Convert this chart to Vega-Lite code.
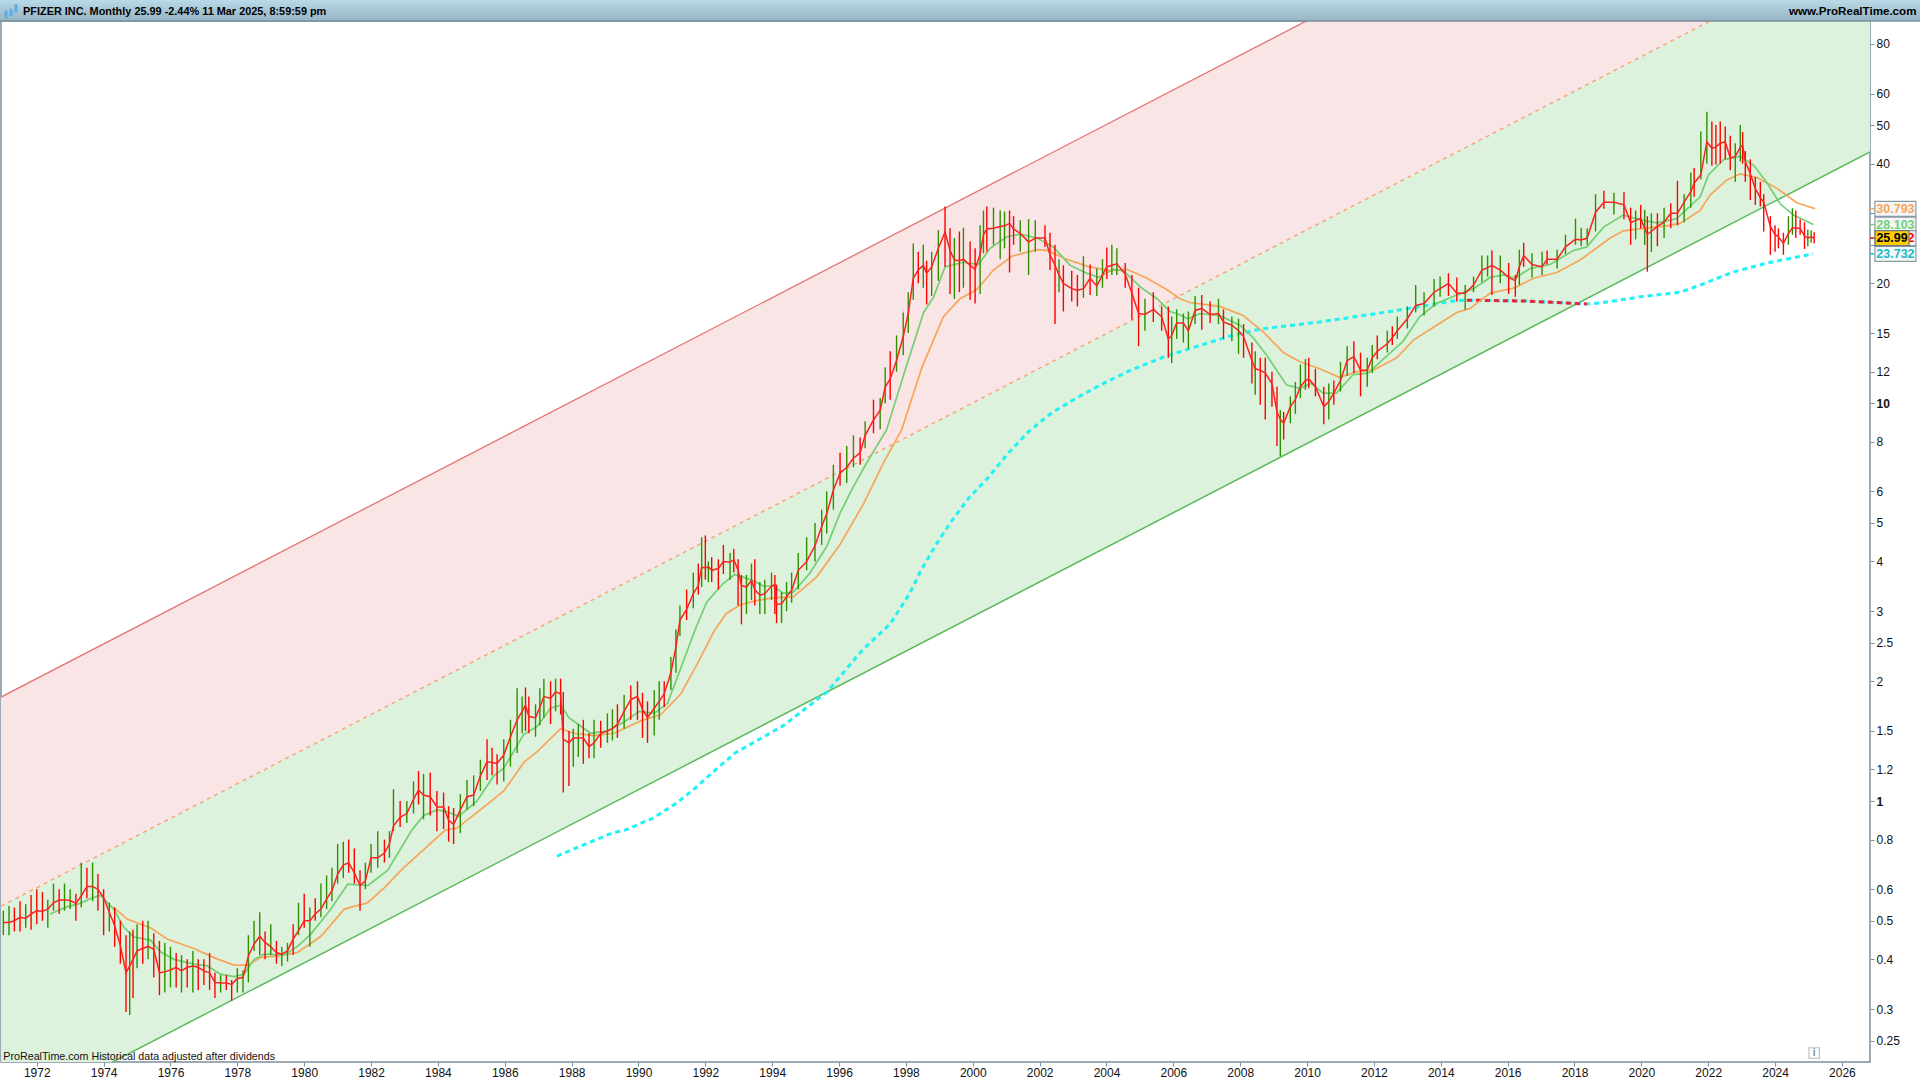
{"$schema":"https://vega.github.io/schema/vega-lite/v6.json","width":1869,"height":1041,"autosize":{"type":"none"},"padding":{"left":1,"top":21,"right":50,"bottom":18},"background":"white","config":{"view":{"stroke":"#7b8f9c","strokeWidth":1.5},"font":"Liberation Sans"},
"data":{"name":"one"},
"datasets":{"one":[{"n":1}],
"channel":[{"t":1970.93,"lo":0.158,"mid":0.544,"hi":1.825},{"t":2026.84,"lo":42.8,"mid":147.5,"hi":494.6}],
"icon":[{"t":1971.08,"a":92.7,"b":97},{"t":1971.23,"a":94,"b":98},{"t":1971.38,"a":96,"b":100.7}],
"tags":[{"v":30.793,"s":"o","txt":"30.793"},{"v":28.103,"s":"g","txt":"28.103"},{"v":25.99,"s":"r","txt":"25.992"},{"v":23.732,"s":"c","txt":"23.732"}],
"last":[{"v":25.99,"txt":"25.99"}],
"ma":[
{"t":1972.4,"v":0.52,"s":"g"},{"t":1972.9,"v":0.542,"s":"g"},{"t":1973.3,"v":0.553,"s":"g"},{"t":1973.6,"v":0.568,"s":"g"},{"t":1973.9,"v":0.58,"s":"g"},{"t":1974.3,"v":0.535,"s":"g"},{"t":1974.6,"v":0.482,"s":"g"},{"t":1974.9,"v":0.455,"s":"g"},{"t":1975.4,"v":0.447,"s":"g"},{"t":1975.7,"v":0.418,"s":"g"},{"t":1976.1,"v":0.4,"s":"g"},{"t":1976.7,"v":0.389,"s":"g"},{"t":1977.1,"v":0.385,"s":"g"},{"t":1977.5,"v":0.367,"s":"g"},{"t":1977.9,"v":0.362,"s":"g"},{"t":1978.2,"v":0.367,"s":"g"},{"t":1978.5,"v":0.4,"s":"g"},{"t":1978.8,"v":0.412,"s":"g"},{"t":1979.4,"v":0.41,"s":"g"},{"t":1979.8,"v":0.431,"s":"g"},{"t":1980.2,"v":0.463,"s":"g"},{"t":1980.8,"v":0.535,"s":"g"},{"t":1981.3,"v":0.618,"s":"g"},{"t":1981.9,"v":0.613,"s":"g"},{"t":1982.5,"v":0.67,"s":"g"},{"t":1983.22,"v":0.845,"s":"g"},{"t":1983.57,"v":0.92,"s":"g"},{"t":1983.97,"v":0.95,"s":"g"},{"t":1984.27,"v":0.94,"s":"g"},{"t":1984.62,"v":0.915,"s":"g"},{"t":1985.17,"v":1.0,"s":"g"},{"t":1985.67,"v":1.156,"s":"g"},{"t":1985.97,"v":1.21,"s":"g"},{"t":1986.57,"v":1.47,"s":"g"},{"t":1986.97,"v":1.54,"s":"g"},{"t":1987.37,"v":1.71,"s":"g"},{"t":1987.67,"v":1.74,"s":"g"},{"t":1987.92,"v":1.62,"s":"g"},{"t":1988.57,"v":1.48,"s":"g"},{"t":1989.07,"v":1.5,"s":"g"},{"t":1989.57,"v":1.58,"s":"g"},{"t":1990.02,"v":1.68,"s":"g"},{"t":1990.47,"v":1.66,"s":"g"},{"t":1990.87,"v":1.76,"s":"g"},{"t":1991.32,"v":2.22,"s":"g"},{"t":1991.69,"v":2.69,"s":"g"},{"t":1992.04,"v":3.16,"s":"g"},{"t":1992.53,"v":3.52,"s":"g"},{"t":1992.88,"v":3.71,"s":"g"},{"t":1993.43,"v":3.58,"s":"g"},{"t":1993.73,"v":3.47,"s":"g"},{"t":1994.03,"v":3.47,"s":"g"},{"t":1994.33,"v":3.33,"s":"g"},{"t":1994.63,"v":3.35,"s":"g"},{"t":1995.13,"v":3.74,"s":"g"},{"t":1995.63,"v":4.36,"s":"g"},{"t":1996.02,"v":5.27,"s":"g"},{"t":1996.42,"v":6.15,"s":"g"},{"t":1996.82,"v":7.06,"s":"g"},{"t":1997.42,"v":8.56,"s":"g"},{"t":1998.03,"v":12.5,"s":"g"},{"t":1998.53,"v":16.9,"s":"g"},{"t":1998.83,"v":18.5,"s":"g"},{"t":1999.17,"v":22,"s":"g"},{"t":1999.72,"v":22.6,"s":"g"},{"t":2000.17,"v":22.3,"s":"g"},{"t":2000.52,"v":24.5,"s":"g"},{"t":2001.02,"v":26.2,"s":"g"},{"t":2001.42,"v":26.6,"s":"g"},{"t":2001.92,"v":26,"s":"g"},{"t":2002.41,"v":24.7,"s":"g"},{"t":2002.91,"v":22.2,"s":"g"},{"t":2003.41,"v":21.2,"s":"g"},{"t":2003.76,"v":20.7,"s":"g"},{"t":2004.21,"v":21.7,"s":"g"},{"t":2004.51,"v":21.5,"s":"g"},{"t":2005.01,"v":19.6,"s":"g"},{"t":2005.51,"v":18.3,"s":"g"},{"t":2005.9,"v":17,"s":"g"},{"t":2006.1,"v":16.8,"s":"g"},{"t":2006.44,"v":16.3,"s":"g"},{"t":2006.79,"v":16.8,"s":"g"},{"t":2007.39,"v":16.6,"s":"g"},{"t":2007.99,"v":15.7,"s":"g"},{"t":2008.39,"v":14.6,"s":"g"},{"t":2008.79,"v":13.2,"s":"g"},{"t":2009.09,"v":12.1,"s":"g"},{"t":2009.39,"v":11.1,"s":"g"},{"t":2009.79,"v":10.9,"s":"g"},{"t":2010.13,"v":11.2,"s":"g"},{"t":2010.48,"v":10.6,"s":"g"},{"t":2010.88,"v":10.6,"s":"g"},{"t":2011.38,"v":11.8,"s":"g"},{"t":2011.83,"v":11.9,"s":"g"},{"t":2012.28,"v":12.9,"s":"g"},{"t":2012.87,"v":14.3,"s":"g"},{"t":2013.37,"v":16.5,"s":"g"},{"t":2013.87,"v":17.8,"s":"g"},{"t":2014.48,"v":18.7,"s":"g"},{"t":2014.98,"v":19.4,"s":"g"},{"t":2015.48,"v":20.7,"s":"g"},{"t":2015.88,"v":21,"s":"g"},{"t":2016.22,"v":20.6,"s":"g"},{"t":2016.67,"v":21.8,"s":"g"},{"t":2017.27,"v":22.3,"s":"g"},{"t":2017.97,"v":24.2,"s":"g"},{"t":2018.37,"v":24.7,"s":"g"},{"t":2018.87,"v":27.7,"s":"g"},{"t":2019.46,"v":29.7,"s":"g"},{"t":2019.96,"v":28.9,"s":"g"},{"t":2020.46,"v":28.4,"s":"g"},{"t":2021.06,"v":29.1,"s":"g"},{"t":2021.76,"v":33,"s":"g"},{"t":2022.01,"v":37.5,"s":"g"},{"t":2022.46,"v":40.9,"s":"g"},{"t":2022.96,"v":41.7,"s":"g"},{"t":2023.36,"v":39.6,"s":"g"},{"t":2023.75,"v":35.9,"s":"g"},{"t":2024.15,"v":31.7,"s":"g"},{"t":2024.55,"v":29.7,"s":"g"},{"t":2025.15,"v":28.103,"s":"g"},
{"t":1974.3,"v":0.54,"s":"o"},{"t":1974.7,"v":0.505,"s":"o"},{"t":1975.4,"v":0.48,"s":"o"},{"t":1975.9,"v":0.45,"s":"o"},{"t":1976.7,"v":0.426,"s":"o"},{"t":1977.3,"v":0.404,"s":"o"},{"t":1977.9,"v":0.387,"s":"o"},{"t":1978.3,"v":0.387,"s":"o"},{"t":1978.7,"v":0.404,"s":"o"},{"t":1979.2,"v":0.408,"s":"o"},{"t":1979.8,"v":0.416,"s":"o"},{"t":1980.5,"v":0.457,"s":"o"},{"t":1981.2,"v":0.535,"s":"o"},{"t":1981.9,"v":0.555,"s":"o"},{"t":1982.4,"v":0.606,"s":"o"},{"t":1982.9,"v":0.67,"s":"o"},{"t":1984.22,"v":0.845,"s":"o"},{"t":1984.57,"v":0.855,"s":"o"},{"t":1985.27,"v":0.95,"s":"o"},{"t":1985.97,"v":1.06,"s":"o"},{"t":1986.57,"v":1.25,"s":"o"},{"t":1986.97,"v":1.33,"s":"o"},{"t":1987.67,"v":1.52,"s":"o"},{"t":1988.07,"v":1.48,"s":"o"},{"t":1988.67,"v":1.46,"s":"o"},{"t":1989.27,"v":1.48,"s":"o"},{"t":1990.07,"v":1.59,"s":"o"},{"t":1990.67,"v":1.65,"s":"o"},{"t":1991.27,"v":1.86,"s":"o"},{"t":1991.77,"v":2.22,"s":"o"},{"t":1992.28,"v":2.69,"s":"o"},{"t":1992.63,"v":2.96,"s":"o"},{"t":1993.03,"v":3.11,"s":"o"},{"t":1993.53,"v":3.19,"s":"o"},{"t":1994.03,"v":3.24,"s":"o"},{"t":1994.63,"v":3.26,"s":"o"},{"t":1995.33,"v":3.66,"s":"o"},{"t":1996.02,"v":4.4,"s":"o"},{"t":1996.72,"v":5.56,"s":"o"},{"t":1997.32,"v":7.06,"s":"o"},{"t":1997.87,"v":8.56,"s":"o"},{"t":1998.48,"v":12.3,"s":"o"},{"t":1999.12,"v":16.5,"s":"o"},{"t":1999.62,"v":18.3,"s":"o"},{"t":2000.12,"v":19.3,"s":"o"},{"t":2000.62,"v":21.6,"s":"o"},{"t":2001.17,"v":23.4,"s":"o"},{"t":2001.92,"v":24.3,"s":"o"},{"t":2002.21,"v":24.2,"s":"o"},{"t":2002.81,"v":23,"s":"o"},{"t":2003.41,"v":22.1,"s":"o"},{"t":2004.11,"v":21.5,"s":"o"},{"t":2004.61,"v":21.7,"s":"o"},{"t":2005.21,"v":20.6,"s":"o"},{"t":2005.8,"v":19.3,"s":"o"},{"t":2006.2,"v":18.3,"s":"o"},{"t":2006.49,"v":17.9,"s":"o"},{"t":2007.39,"v":17.5,"s":"o"},{"t":2008.09,"v":16.6,"s":"o"},{"t":2008.69,"v":15.1,"s":"o"},{"t":2009.29,"v":13.4,"s":"o"},{"t":2009.79,"v":12.7,"s":"o"},{"t":2010.38,"v":12.2,"s":"o"},{"t":2010.98,"v":11.6,"s":"o"},{"t":2011.48,"v":12,"s":"o"},{"t":2011.98,"v":12.1,"s":"o"},{"t":2012.68,"v":13,"s":"o"},{"t":2013.18,"v":14.4,"s":"o"},{"t":2013.98,"v":15.9,"s":"o"},{"t":2014.48,"v":16.9,"s":"o"},{"t":2014.88,"v":17.3,"s":"o"},{"t":2015.48,"v":18.9,"s":"o"},{"t":2016.22,"v":19.5,"s":"o"},{"t":2016.77,"v":20.6,"s":"o"},{"t":2017.47,"v":21.3,"s":"o"},{"t":2018.17,"v":22.9,"s":"o"},{"t":2019.07,"v":26,"s":"o"},{"t":2019.46,"v":27.1,"s":"o"},{"t":2020.06,"v":27.5,"s":"o"},{"t":2020.76,"v":27.9,"s":"o"},{"t":2021.16,"v":28.3,"s":"o"},{"t":2021.76,"v":30.5,"s":"o"},{"t":2022.06,"v":33.4,"s":"o"},{"t":2022.56,"v":36.4,"s":"o"},{"t":2022.96,"v":37.7,"s":"o"},{"t":2023.46,"v":36.9,"s":"o"},{"t":2024.05,"v":34.7,"s":"o"},{"t":2024.65,"v":31.9,"s":"o"},{"t":2025.2,"v":30.793,"s":"o"},
{"t":1987.56,"v":0.727,"s":"c"},{"t":1989.21,"v":0.831,"s":"c"},{"t":1989.6,"v":0.845,"s":"c"},{"t":1990.44,"v":0.906,"s":"c"},{"t":1991.15,"v":0.99,"s":"c"},{"t":1991.63,"v":1.066,"s":"c"},{"t":1992.23,"v":1.183,"s":"c"},{"t":1992.89,"v":1.32,"s":"c"},{"t":1994.35,"v":1.55,"s":"c"},{"t":1995.64,"v":1.88,"s":"c"},{"t":1996.72,"v":2.41,"s":"c"},{"t":1997.52,"v":2.78,"s":"c"},{"t":1998.12,"v":3.33,"s":"c"},{"t":1998.42,"v":3.76,"s":"c"},{"t":1998.87,"v":4.37,"s":"c"},{"t":1999.32,"v":4.99,"s":"c"},{"t":1999.86,"v":5.75,"s":"c"},{"t":2000.46,"v":6.5,"s":"c"},{"t":2001.01,"v":7.4,"s":"c"},{"t":2001.66,"v":8.47,"s":"c"},{"t":2002.36,"v":9.45,"s":"c"},{"t":2003.1,"v":10.3,"s":"c"},{"t":2003.9,"v":11.2,"s":"c"},{"t":2004.7,"v":12.07,"s":"c"},{"t":2005.69,"v":13.05,"s":"c"},{"t":2007.7,"v":14.75,"s":"c"},{"t":2008.59,"v":15.35,"s":"c"},{"t":2010.39,"v":16,"s":"c"},{"t":2012.39,"v":16.95,"s":"c"},{"t":2014.37,"v":18.05,"s":"c"},{"t":2014.78,"v":18.15,"s":"c"},{"t":2016.58,"v":18.05,"s":"c"},{"t":2018.37,"v":17.75,"s":"c"},{"t":2018.76,"v":17.85,"s":"c"},{"t":2019.96,"v":18.5,"s":"c"},{"t":2021.16,"v":19,"s":"c"},{"t":2021.76,"v":19.8,"s":"c"},{"t":2022.74,"v":21.35,"s":"c"},{"t":2023.76,"v":22.5,"s":"c"},{"t":2025.14,"v":23.732,"s":"c"},
{"t":2014.78,"v":18.15,"s":"d"},{"t":2016.58,"v":18.05,"s":"d"},{"t":2018.37,"v":17.75,"s":"d"}],
"bars":[
{"t":1971,"h":0.53,"l":0.46,"c":0.495,"d":"u"},{"t":1971.17,"h":0.545,"l":0.46,"c":0.495,"d":"u"},{"t":1971.33,"h":0.54,"l":0.47,"c":0.5,"d":"r"},{"t":1971.5,"h":0.56,"l":0.47,"c":0.51,"d":"r"},{"t":1971.67,"h":0.55,"l":0.48,"c":0.507,"d":"u"},{"t":1971.83,"h":0.58,"l":0.475,"c":0.52,"d":"r"},{"t":1972,"h":0.6,"l":0.49,"c":0.53,"d":"r"},{"t":1972.17,"h":0.59,"l":0.5,"c":0.528,"d":"r"},{"t":1972.33,"h":0.565,"l":0.48,"c":0.535,"d":"u"},{"t":1972.5,"h":0.62,"l":0.53,"c":0.555,"d":"u"},{"t":1972.67,"h":0.6,"l":0.52,"c":0.564,"d":"r"},{"t":1972.83,"h":0.62,"l":0.53,"c":0.564,"d":"u"},{"t":1973,"h":0.6,"l":0.535,"c":0.562,"d":"u"},{"t":1973.17,"h":0.585,"l":0.5,"c":0.553,"d":"r"},{"t":1973.33,"h":0.7,"l":0.54,"c":0.577,"d":"u"},{"t":1973.5,"h":0.68,"l":0.57,"c":0.61,"d":"r"},{"t":1973.67,"h":0.7,"l":0.56,"c":0.61,"d":"u"},{"t":1973.83,"h":0.655,"l":0.53,"c":0.6,"d":"r"},{"t":1974,"h":0.6,"l":0.46,"c":0.572,"d":"r"},{"t":1974.17,"h":0.555,"l":0.47,"c":0.525,"d":"u"},{"t":1974.33,"h":0.54,"l":0.43,"c":0.486,"d":"r"},{"t":1974.5,"h":0.5,"l":0.39,"c":0.433,"d":"r"},{"t":1974.67,"h":0.46,"l":0.295,"c":0.37,"d":"r"},{"t":1974.78,"h":0.47,"l":0.29,"c":0.385,"d":"u"},{"t":1974.88,"h":0.475,"l":0.32,"c":0.4,"d":"r"},{"t":1975,"h":0.49,"l":0.38,"c":0.42,"d":"u"},{"t":1975.17,"h":0.5,"l":0.39,"c":0.426,"d":"r"},{"t":1975.33,"h":0.5,"l":0.4,"c":0.431,"d":"u"},{"t":1975.5,"h":0.465,"l":0.36,"c":0.424,"d":"r"},{"t":1975.67,"h":0.445,"l":0.325,"c":0.37,"d":"r"},{"t":1975.83,"h":0.44,"l":0.33,"c":0.372,"d":"u"},{"t":1976,"h":0.43,"l":0.34,"c":0.376,"d":"u"},{"t":1976.17,"h":0.415,"l":0.34,"c":0.382,"d":"r"},{"t":1976.33,"h":0.41,"l":0.33,"c":0.374,"d":"u"},{"t":1976.5,"h":0.4,"l":0.34,"c":0.382,"d":"r"},{"t":1976.67,"h":0.42,"l":0.33,"c":0.385,"d":"u"},{"t":1976.83,"h":0.4,"l":0.335,"c":0.382,"d":"r"},{"t":1977,"h":0.4,"l":0.345,"c":0.374,"d":"r"},{"t":1977.17,"h":0.415,"l":0.335,"c":0.37,"d":"r"},{"t":1977.33,"h":0.37,"l":0.32,"c":0.35,"d":"r"},{"t":1977.5,"h":0.365,"l":0.33,"c":0.349,"d":"u"},{"t":1977.67,"h":0.365,"l":0.335,"c":0.349,"d":"r"},{"t":1977.83,"h":0.355,"l":0.315,"c":0.346,"d":"r"},{"t":1978,"h":0.38,"l":0.33,"c":0.358,"d":"u"},{"t":1978.17,"h":0.375,"l":0.33,"c":0.36,"d":"u"},{"t":1978.33,"h":0.46,"l":0.35,"c":0.408,"d":"u"},{"t":1978.5,"h":0.5,"l":0.42,"c":0.437,"d":"u"},{"t":1978.67,"h":0.525,"l":0.41,"c":0.457,"d":"u"},{"t":1978.83,"h":0.47,"l":0.4,"c":0.441,"d":"r"},{"t":1979,"h":0.49,"l":0.41,"c":0.43,"d":"u"},{"t":1979.17,"h":0.445,"l":0.39,"c":0.416,"d":"r"},{"t":1979.33,"h":0.43,"l":0.385,"c":0.412,"d":"u"},{"t":1979.5,"h":0.44,"l":0.395,"c":0.42,"d":"u"},{"t":1979.67,"h":0.49,"l":0.41,"c":0.45,"d":"r"},{"t":1979.83,"h":0.555,"l":0.46,"c":0.472,"d":"u"},{"t":1980,"h":0.585,"l":0.48,"c":0.5,"d":"r"},{"t":1980.17,"h":0.54,"l":0.43,"c":0.5,"d":"u"},{"t":1980.33,"h":0.57,"l":0.5,"c":0.52,"d":"r"},{"t":1980.5,"h":0.62,"l":0.51,"c":0.535,"d":"u"},{"t":1980.67,"h":0.65,"l":0.535,"c":0.567,"d":"u"},{"t":1980.83,"h":0.68,"l":0.56,"c":0.595,"d":"u"},{"t":1981,"h":0.78,"l":0.62,"c":0.655,"d":"u"},{"t":1981.17,"h":0.79,"l":0.64,"c":0.69,"d":"u"},{"t":1981.33,"h":0.8,"l":0.66,"c":0.7,"d":"r"},{"t":1981.5,"h":0.76,"l":0.62,"c":0.66,"d":"r"},{"t":1981.67,"h":0.67,"l":0.53,"c":0.613,"d":"r"},{"t":1981.83,"h":0.7,"l":0.6,"c":0.63,"d":"u"},{"t":1982,"h":0.78,"l":0.66,"c":0.72,"d":"u"},{"t":1982.2,"h":0.84,"l":0.68,"c":0.72,"d":"u"},{"t":1982.4,"h":0.8,"l":0.7,"c":0.74,"d":"r"},{"t":1982.55,"h":0.84,"l":0.72,"c":0.78,"d":"u"},
{"t":1982.67,"h":1.07,"l":0.84,"c":0.865,"d":"u"},{"t":1982.87,"h":1,"l":0.86,"c":0.91,"d":"r"},{"t":1983.07,"h":1,"l":0.88,"c":0.93,"d":"u"},{"t":1983.27,"h":1.12,"l":0.93,"c":1.01,"d":"u"},{"t":1983.42,"h":1.19,"l":0.98,"c":1.066,"d":"r"},{"t":1983.57,"h":1.17,"l":0.9,"c":1.035,"d":"u"},{"t":1983.77,"h":1.18,"l":0.92,"c":1.025,"d":"r"},{"t":1983.97,"h":1.06,"l":0.84,"c":0.966,"d":"r"},{"t":1984.17,"h":1.05,"l":0.85,"c":0.966,"d":"r"},{"t":1984.32,"h":0.97,"l":0.79,"c":0.895,"d":"r"},{"t":1984.47,"h":0.96,"l":0.78,"c":0.873,"d":"r"},{"t":1984.67,"h":1.04,"l":0.83,"c":0.95,"d":"u"},{"t":1984.87,"h":1.13,"l":0.95,"c":1.025,"d":"u"},{"t":1985.07,"h":1.16,"l":0.97,"c":1.035,"d":"u"},{"t":1985.27,"h":1.27,"l":1.06,"c":1.156,"d":"u"},{"t":1985.47,"h":1.43,"l":1.13,"c":1.255,"d":"r"},{"t":1985.62,"h":1.36,"l":1.16,"c":1.25,"d":"r"},{"t":1985.77,"h":1.31,"l":1.1,"c":1.243,"d":"r"},{"t":1985.97,"h":1.43,"l":1.12,"c":1.305,"d":"u"},{"t":1986.17,"h":1.6,"l":1.22,"c":1.45,"d":"u"},{"t":1986.37,"h":1.92,"l":1.32,"c":1.6,"d":"u"},{"t":1986.52,"h":1.83,"l":1.48,"c":1.68,"d":"u"},{"t":1986.62,"h":1.93,"l":1.5,"c":1.74,"d":"r"},{"t":1986.72,"h":1.83,"l":1.48,"c":1.63,"d":"r"},{"t":1986.92,"h":1.75,"l":1.45,"c":1.62,"d":"u"},{"t":1987.05,"h":1.92,"l":1.55,"c":1.72,"d":"u"},{"t":1987.17,"h":2.03,"l":1.62,"c":1.83,"d":"u"},{"t":1987.37,"h":2,"l":1.56,"c":1.81,"d":"r"},{"t":1987.52,"h":2.03,"l":1.68,"c":1.88,"d":"u"},{"t":1987.67,"h":2.03,"l":1.65,"c":1.86,"d":"r"},{"t":1987.75,"h":1.88,"l":1.05,"c":1.43,"d":"r"},{"t":1987.92,"h":1.5,"l":1.09,"c":1.4,"d":"r"},{"t":1988.05,"h":1.52,"l":1.22,"c":1.44,"d":"u"},{"t":1988.2,"h":1.56,"l":1.29,"c":1.44,"d":"u"},{"t":1988.35,"h":1.6,"l":1.24,"c":1.44,"d":"r"},{"t":1988.52,"h":1.48,"l":1.28,"c":1.37,"d":"r"},{"t":1988.67,"h":1.6,"l":1.28,"c":1.4,"d":"u"},{"t":1988.87,"h":1.59,"l":1.36,"c":1.48,"d":"r"},{"t":1989.07,"h":1.66,"l":1.4,"c":1.5,"d":"u"},{"t":1989.22,"h":1.7,"l":1.42,"c":1.52,"d":"u"},{"t":1989.37,"h":1.75,"l":1.44,"c":1.56,"d":"r"},{"t":1989.57,"h":1.85,"l":1.52,"c":1.68,"d":"u"},{"t":1989.77,"h":1.95,"l":1.6,"c":1.8,"d":"r"},{"t":1989.97,"h":2,"l":1.6,"c":1.83,"d":"r"},{"t":1990.12,"h":1.87,"l":1.44,"c":1.7,"d":"r"},{"t":1990.27,"h":1.78,"l":1.4,"c":1.62,"d":"r"},{"t":1990.47,"h":1.9,"l":1.46,"c":1.71,"d":"u"},{"t":1990.62,"h":2,"l":1.6,"c":1.78,"d":"u"},{"t":1990.77,"h":2,"l":1.72,"c":1.86,"d":"r"},{"t":1990.97,"h":2.3,"l":1.9,"c":2.1,"d":"u"},{"t":1991.12,"h":2.7,"l":2.1,"c":2.44,"d":"u"},{"t":1991.24,"h":3.1,"l":2.6,"c":2.85,"d":"u"},{"t":1991.44,"h":3.4,"l":2.85,"c":3.03,"d":"r"},{"t":1991.64,"h":3.75,"l":3.05,"c":3.32,"d":"u"},{"t":1991.79,"h":3.95,"l":3.3,"c":3.48,"d":"r"},{"t":1991.89,"h":4.6,"l":3.45,"c":3.87,"d":"u"},{"t":1992,"h":4.65,"l":3.6,"c":3.85,"d":"r"},{"t":1992.09,"h":4,"l":3.55,"c":3.88,"d":"u"},{"t":1992.19,"h":4.1,"l":3.55,"c":3.8,"d":"r"},{"t":1992.39,"h":4.05,"l":3.4,"c":3.84,"d":"r"},{"t":1992.54,"h":4.4,"l":3.72,"c":4,"d":"r"},{"t":1992.74,"h":4.2,"l":3.6,"c":3.98,"d":"u"},{"t":1992.85,"h":4.3,"l":3.75,"c":4.04,"d":"r"},{"t":1992.98,"h":4.05,"l":3.1,"c":3.8,"d":"r"},{"t":1993.08,"h":3.7,"l":2.78,"c":3.48,"d":"r"},{"t":1993.23,"h":3.7,"l":2.95,"c":3.45,"d":"u"},{"t":1993.38,"h":3.95,"l":3.2,"c":3.58,"d":"u"},{"t":1993.48,"h":4.05,"l":3.1,"c":3.4,"d":"r"},{"t":1993.63,"h":3.55,"l":2.95,"c":3.29,"d":"u"},{"t":1993.78,"h":3.6,"l":2.95,"c":3.32,"d":"u"},{"t":1993.98,"h":3.75,"l":3.2,"c":3.47,"d":"u"},{"t":1994.08,"h":3.7,"l":2.95,"c":3.5,"d":"r"},{"t":1994.13,"h":3.5,"l":2.8,"c":3.12,"d":"r"},{"t":1994.28,"h":3.35,"l":2.8,"c":3.13,"d":"u"},{"t":1994.43,"h":3.55,"l":3,"c":3.26,"d":"u"},{"t":1994.58,"h":3.75,"l":3.15,"c":3.38,"d":"u"},{"t":1994.78,"h":4.2,"l":3.4,"c":3.8,"d":"u"},{"t":1995.03,"h":4.6,"l":3.8,"c":4,"d":"u"},{"t":1995.28,"h":5,"l":4,"c":4.38,"d":"u"},{"t":1995.48,"h":5.4,"l":4.4,"c":4.9,"d":"u"},{"t":1995.63,"h":6,"l":4.7,"c":5.27,"d":"u"},{"t":1995.83,"h":7,"l":5.4,"c":6.05,"d":"u"},{"t":1996.03,"h":7.5,"l":6.2,"c":6.67,"d":"r"},{"t":1996.23,"h":7.8,"l":6.3,"c":6.9,"d":"u"},{"t":1996.43,"h":8.3,"l":6.9,"c":7.27,"d":"u"},{"t":1996.63,"h":8.2,"l":7,"c":7.5,"d":"r"},{"t":1996.78,"h":9,"l":7.7,"c":8.3,"d":"u"},{"t":1997.03,"h":10.2,"l":8.4,"c":9.07,"d":"r"},{"t":1997.23,"h":10.3,"l":8.6,"c":9.6,"d":"u"},{"t":1997.38,"h":12.3,"l":10,"c":10.97,"d":"u"},{"t":1997.53,"h":13.5,"l":10.2,"c":11.5,"d":"r"},{"t":1997.72,"h":14.8,"l":12,"c":12.8,"d":"u"},{"t":1997.92,"h":16.9,"l":13.2,"c":14.7,"d":"u"},{"t":1998.07,"h":19,"l":15,"c":16.8,"d":"u"},{"t":1998.22,"h":25.2,"l":18.2,"c":20.6,"d":"u"},{"t":1998.37,"h":24,"l":20,"c":21.6,"d":"r"},{"t":1998.52,"h":25,"l":19.5,"c":22.2,"d":"u"},{"t":1998.62,"h":22.8,"l":17.7,"c":21.2,"d":"r"},{"t":1998.77,"h":24,"l":18.6,"c":22,"d":"u"},{"t":1998.97,"h":27.2,"l":20.3,"c":24.5,"d":"u"},
{"t":1999.17,"h":31.2,"l":22,"c":26.9,"d":"r"},{"t":1999.32,"h":27.5,"l":18.8,"c":24.2,"d":"r"},{"t":1999.45,"h":26,"l":18.3,"c":22.9,"d":"u"},{"t":1999.6,"h":27,"l":19,"c":22.8,"d":"r"},{"t":1999.72,"h":27.6,"l":19.5,"c":23,"d":"u"},{"t":1999.92,"h":25.5,"l":18.2,"c":22.2,"d":"r"},{"t":2000.07,"h":24.5,"l":17.8,"c":21.7,"d":"r"},{"t":2000.22,"h":28,"l":18.8,"c":23.7,"d":"u"},{"t":2000.32,"h":30.5,"l":23.8,"c":26.5,"d":"u"},{"t":2000.42,"h":31.2,"l":24,"c":27.4,"d":"r"},{"t":2000.62,"h":31,"l":25,"c":27.5,"d":"u"},{"t":2000.82,"h":30.5,"l":23,"c":27.8,"d":"u"},{"t":2000.95,"h":30.3,"l":24.5,"c":27.9,"d":"u"},{"t":2001.1,"h":30.5,"l":21.3,"c":28.3,"d":"r"},{"t":2001.22,"h":29.5,"l":25,"c":27.4,"d":"r"},{"t":2001.42,"h":28.8,"l":24,"c":26.7,"d":"u"},{"t":2001.67,"h":29,"l":21,"c":25.4,"d":"u"},{"t":2001.87,"h":28.8,"l":24,"c":26,"d":"u"},{"t":2002.16,"h":28,"l":24.7,"c":26,"d":"r"},{"t":2002.31,"h":26.8,"l":21.6,"c":23.6,"d":"r"},{"t":2002.46,"h":25,"l":15.8,"c":22.2,"d":"r"},{"t":2002.58,"h":23,"l":19,"c":21,"d":"u"},{"t":2002.71,"h":22.2,"l":17,"c":20,"d":"r"},{"t":2002.96,"h":21.5,"l":18,"c":19.4,"d":"r"},{"t":2003.13,"h":21,"l":17.5,"c":19.2,"d":"r"},{"t":2003.31,"h":23.4,"l":18.4,"c":19.4,"d":"u"},{"t":2003.51,"h":22.3,"l":18.7,"c":20.6,"d":"r"},{"t":2003.71,"h":21.8,"l":18.6,"c":19.7,"d":"u"},{"t":2003.88,"h":23,"l":19.5,"c":21,"d":"u"},{"t":2004.01,"h":24.6,"l":20.5,"c":22,"d":"r"},{"t":2004.16,"h":25,"l":21,"c":22.2,"d":"u"},{"t":2004.31,"h":24.5,"l":21,"c":22.4,"d":"u"},{"t":2004.56,"h":22.5,"l":19.5,"c":21.1,"d":"r"},{"t":2004.76,"h":21,"l":16.2,"c":18.9,"d":"r"},{"t":2004.96,"h":19.5,"l":13.9,"c":16.8,"d":"r"},{"t":2005.15,"h":18.3,"l":15.2,"c":16.7,"d":"u"},{"t":2005.4,"h":19,"l":16,"c":17.2,"d":"r"},{"t":2005.65,"h":17.5,"l":15.2,"c":16.5,"d":"r"},{"t":2005.85,"h":17.5,"l":13,"c":14.5,"d":"r"},{"t":2005.95,"h":16.5,"l":12.6,"c":14.8,"d":"u"},{"t":2006.1,"h":17.2,"l":14.5,"c":15.9,"d":"u"},{"t":2006.3,"h":16.8,"l":14.2,"c":15.9,"d":"u"},{"t":2006.45,"h":17,"l":13.7,"c":15.2,"d":"u"},{"t":2006.65,"h":18.6,"l":15.8,"c":17.1,"d":"u"},{"t":2006.85,"h":18.7,"l":15.3,"c":17.3,"d":"r"},{"t":2007.1,"h":18,"l":15.9,"c":16.7,"d":"r"},{"t":2007.35,"h":18.3,"l":15.8,"c":16.8,"d":"u"},{"t":2007.5,"h":17.2,"l":14.5,"c":16,"d":"r"},{"t":2007.75,"h":16.5,"l":14.3,"c":15.7,"d":"u"},{"t":2007.95,"h":16.3,"l":13.3,"c":15.2,"d":"u"},{"t":2008.1,"h":15.8,"l":13,"c":14.7,"d":"r"},{"t":2008.35,"h":14.2,"l":11.2,"c":12.8,"d":"r"},{"t":2008.45,"h":13.5,"l":10.5,"c":12.2,"d":"u"},{"t":2008.6,"h":13,"l":9.9,"c":12.1,"d":"r"},{"t":2008.75,"h":13,"l":9.1,"c":11.9,"d":"r"},{"t":2008.95,"h":12,"l":9.8,"c":11.2,"d":"r"},{"t":2009.1,"h":11,"l":7.8,"c":9.5,"d":"r"},{"t":2009.2,"h":9.6,"l":7.35,"c":9.1,"d":"u"},{"t":2009.3,"h":9.5,"l":8.1,"c":8.9,"d":"r"},{"t":2009.5,"h":10.4,"l":8.9,"c":9.8,"d":"u"},{"t":2009.65,"h":11.3,"l":9.4,"c":10.2,"d":"u"},{"t":2009.8,"h":12.5,"l":10.3,"c":11,"d":"u"},{"t":2009.95,"h":12.9,"l":10.8,"c":11.4,"d":"u"},{"t":2010.05,"h":13,"l":10.9,"c":11.5,"d":"r"},{"t":2010.25,"h":12.2,"l":10.4,"c":11,"d":"r"},{"t":2010.5,"h":11,"l":8.85,"c":9.8,"d":"r"},{"t":2010.65,"h":11.2,"l":9.1,"c":10.1,"d":"u"},{"t":2010.8,"h":11.4,"l":9.9,"c":10.6,"d":"r"},{"t":2011,"h":12.7,"l":10.7,"c":11.4,"d":"u"},{"t":2011.2,"h":13.9,"l":11.7,"c":12.8,"d":"u"},{"t":2011.4,"h":14.3,"l":11.9,"c":13.1,"d":"r"},{"t":2011.6,"h":13.4,"l":10.4,"c":12.1,"d":"r"},{"t":2011.8,"h":13,"l":11,"c":12.1,"d":"u"},{"t":2011.95,"h":14,"l":11.9,"c":13,"d":"u"},{"t":2012.1,"h":14.8,"l":12.9,"c":13.5,"d":"r"},{"t":2012.4,"h":15.2,"l":13.4,"c":14.1,"d":"u"},{"t":2012.55,"h":15.6,"l":14,"c":14.6,"d":"r"},{"t":2012.7,"h":16.5,"l":14.5,"c":15.2,"d":"u"},{"t":2013,"h":17.5,"l":15.4,"c":16.3,"d":"u"},{"t":2013.25,"h":19.8,"l":16.9,"c":17.6,"d":"u"},{"t":2013.5,"h":19,"l":16.6,"c":17.8,"d":"u"},{"t":2013.8,"h":20.5,"l":17.5,"c":19,"d":"u"},{"t":2013.98,"h":20.8,"l":18.5,"c":19.4,"d":"u"},{"t":2014.23,"h":21.2,"l":18.6,"c":20,"d":"r"},{"t":2014.48,"h":20.7,"l":18,"c":18.9,"d":"r"},{"t":2014.73,"h":19.8,"l":17.2,"c":18.9,"d":"u"},{"t":2014.98,"h":20.8,"l":19,"c":19.8,"d":"u"},{"t":2015.23,"h":23.5,"l":20.2,"c":21.6,"d":"u"},{"t":2015.4,"h":23.5,"l":20.8,"c":21.9,"d":"u"},{"t":2015.53,"h":24.2,"l":18.7,"c":22.2,"d":"r"},{"t":2015.78,"h":23.5,"l":20,"c":21.6,"d":"u"},{"t":2016.03,"h":22.5,"l":18.8,"c":20.7,"d":"r"},{"t":2016.23,"h":21,"l":18.5,"c":20.3,"d":"r"},{"t":2016.35,"h":24.3,"l":19.8,"c":22,"d":"u"},{"t":2016.48,"h":25.3,"l":22,"c":23.5,"d":"r"},{"t":2016.73,"h":23.8,"l":20.7,"c":22.3,"d":"u"},{"t":2017.03,"h":24,"l":21,"c":22,"d":"u"},{"t":2017.18,"h":24.2,"l":22.3,"c":23,"d":"r"},{"t":2017.48,"h":24.3,"l":21.8,"c":23,"d":"u"},{"t":2017.73,"h":26.5,"l":23.7,"c":24.7,"d":"u"},{"t":2018.03,"h":29.1,"l":25,"c":25.8,"d":"u"},{"t":2018.2,"h":27.6,"l":24.8,"c":25.7,"d":"u"},{"t":2018.38,"h":27.5,"l":25,"c":26,"d":"u"},{"t":2018.63,"h":33.5,"l":27,"c":30.2,"d":"u"},{"t":2018.88,"h":34.2,"l":30.8,"c":32,"d":"r"},{"t":2019.18,"h":33.8,"l":29.8,"c":32,"d":"u"},{"t":2019.48,"h":33.9,"l":29,"c":31.5,"d":"r"},{"t":2019.68,"h":31,"l":25,"c":28.4,"d":"r"},{"t":2019.83,"h":30.5,"l":25.8,"c":28.8,"d":"u"},{"t":2019.98,"h":31.5,"l":27.5,"c":29.1,"d":"r"},{"t":2020.1,"h":30.6,"l":25,"c":27.5,"d":"u"},{"t":2020.18,"h":29.5,"l":21.4,"c":26.6,"d":"r"},{"t":2020.3,"h":30,"l":24,"c":27,"d":"u"},{"t":2020.48,"h":30,"l":24.8,"c":27.8,"d":"r"},{"t":2020.68,"h":31,"l":26,"c":28.5,"d":"u"},{"t":2020.88,"h":31.8,"l":27.5,"c":30,"d":"r"},{"t":2021.08,"h":36.2,"l":28,"c":30,"d":"r"},{"t":2021.28,"h":33.5,"l":28.5,"c":32,"d":"u"},{"t":2021.48,"h":38,"l":31,"c":34,"d":"u"},{"t":2021.58,"h":39,"l":33,"c":35.7,"d":"r"},{"t":2021.78,"h":48.2,"l":36.5,"c":37.5,"d":"u"},{"t":2021.96,"h":54,"l":40,"c":45.4,"d":"u"},{"t":2022.11,"h":51,"l":39.5,"c":43.7,"d":"r"},{"t":2022.23,"h":50,"l":39.8,"c":44,"d":"r"},{"t":2022.36,"h":51,"l":40,"c":45,"d":"r"},{"t":2022.51,"h":49.6,"l":41,"c":45.4,"d":"r"},{"t":2022.66,"h":47,"l":38.5,"c":41.3,"d":"r"},{"t":2022.81,"h":45,"l":36,"c":41.7,"d":"u"},{"t":2022.96,"h":50,"l":40.5,"c":44,"d":"u"},{"t":2023.03,"h":48,"l":40,"c":44.5,"d":"r"},{"t":2023.11,"h":43,"l":36,"c":40.5,"d":"r"},{"t":2023.26,"h":41,"l":32.4,"c":37.7,"d":"r"},{"t":2023.41,"h":37,"l":31.5,"c":34.6,"d":"r"},{"t":2023.56,"h":36,"l":31.2,"c":32.8,"d":"r"},{"t":2023.66,"h":33.5,"l":27,"c":32,"d":"r"},{"t":2023.86,"h":29.5,"l":23.6,"c":27.8,"d":"r"},{"t":2024,"h":28,"l":24,"c":26.5,"d":"r"},{"t":2024.1,"h":27.5,"l":24.5,"c":26.2,"d":"r"},{"t":2024.25,"h":26.8,"l":23.6,"c":25.2,"d":"r"},{"t":2024.4,"h":29.5,"l":25,"c":26.7,"d":"u"},{"t":2024.52,"h":30.9,"l":26.5,"c":27.6,"d":"u"},{"t":2024.62,"h":30.5,"l":26,"c":27.5,"d":"r"},{"t":2024.75,"h":29,"l":26.5,"c":27.5,"d":"r"},{"t":2024.88,"h":28.5,"l":24.4,"c":26.3,"d":"r"},{"t":2024.98,"h":27.3,"l":24.8,"c":26,"d":"u"},{"t":2025.08,"h":27.2,"l":25.3,"c":26.2,"d":"u"},{"t":2025.17,"h":26.9,"l":25.2,"c":25.99,"d":"r"}]},
"layer":[
{"data":{"name":"channel"},"mark":{"type":"area","color":"#f9e5e5","clip":true},"encoding":{"x":{"field":"t","type":"quantitative","title":null,"scale":{"domain":[1970.93,2026.84],"nice":false,"zero":false},"axis":{"values":[1972,1974,1976,1978,1980,1982,1984,1986,1988,1990,1992,1994,1996,1998,2000,2002,2004,2006,2008,2010,2012,2014,2016,2018,2020,2022,2024,2026],"format":"d","grid":false,"domain":false,"tickColor":"#7b8f9c","tickSize":4,"labelFont":"Liberation Sans","labelFontSize":12,"labelColor":"#111111","labelPadding":1,"labelFlush":false,"labelOverlap":false,"title":null}},"y":{"field":"mid","type":"quantitative","title":null,"scale":{"type":"log","domain":[0.2208,91.3],"nice":false},"axis":{"orient":"right","values":[0.25,0.3,0.4,0.5,0.6,0.8,1,1.2,1.5,2,2.5,3,4,5,6,8,10,12,15,20,25,30,40,50,60,80],"labelExpr":"''+datum.value","grid":false,"domain":false,"tickColor":"#7b8f9c","tickSize":4,"labelFont":"Liberation Sans","labelFontSize":12,"labelColor":"#111111","labelPadding":2,"labelOverlap":false,"labelFontWeight":{"condition":{"test":"datum.value==1||datum.value==10","value":"bold"},"value":"normal"},"title":null}},"y2":{"field":"hi"}}},
{"data":{"name":"channel"},"mark":{"type":"area","color":"#ddf2dc","clip":true},"encoding":{"x":{"field":"t","type":"quantitative","scale":{"domain":[1970.93,2026.84]},"axis":null},"y":{"field":"lo","type":"quantitative","scale":{"type":"log","domain":[0.2208,91.3]},"axis":null},"y2":{"field":"mid"}}},
{"data":{"name":"channel"},"mark":{"type":"line","color":"#e57373","strokeWidth":1.3,"clip":true},"encoding":{"x":{"field":"t","type":"quantitative","scale":{"domain":[1970.93,2026.84]},"axis":null},"y":{"field":"hi","type":"quantitative","scale":{"type":"log","domain":[0.2208,91.3]},"axis":null}}},
{"data":{"name":"channel"},"mark":{"type":"line","color":"#f5a67c","strokeWidth":1.5,"strokeDash":[4,4],"clip":true},"encoding":{"x":{"field":"t","type":"quantitative","scale":{"domain":[1970.93,2026.84]},"axis":null},"y":{"field":"mid","type":"quantitative","scale":{"type":"log","domain":[0.2208,91.3]},"axis":null}}},
{"data":{"name":"channel"},"mark":{"type":"line","color":"#5cb85c","strokeWidth":1.5,"clip":true},"encoding":{"x":{"field":"t","type":"quantitative","scale":{"domain":[1970.93,2026.84]},"axis":null},"y":{"field":"lo","type":"quantitative","scale":{"type":"log","domain":[0.2208,91.3]},"axis":null}}},
{"data":{"name":"ma"},"transform":[{"filter":"datum.s=='c'"}],"mark":{"type":"line","color":"#1ff2f5","strokeWidth":3,"strokeDash":[5,4],"clip":true},"encoding":{"x":{"field":"t","type":"quantitative","scale":{"domain":[1970.93,2026.84]},"axis":null},"y":{"field":"v","type":"quantitative","scale":{"type":"log","domain":[0.2208,91.3]},"axis":null}}},
{"data":{"name":"ma"},"transform":[{"filter":"datum.s=='d'"}],"mark":{"type":"line","color":"#f02030","strokeWidth":3,"strokeDash":[5,4],"clip":true},"encoding":{"x":{"field":"t","type":"quantitative","scale":{"domain":[1970.93,2026.84]},"axis":null},"y":{"field":"v","type":"quantitative","scale":{"type":"log","domain":[0.2208,91.3]},"axis":null}}},
{"data":{"name":"ma"},"transform":[{"filter":"datum.s=='o'"}],"mark":{"type":"line","color":"#f7a55a","strokeWidth":1.7,"clip":true},"encoding":{"x":{"field":"t","type":"quantitative","scale":{"domain":[1970.93,2026.84]},"axis":null},"y":{"field":"v","type":"quantitative","scale":{"type":"log","domain":[0.2208,91.3]},"axis":null}}},
{"data":{"name":"ma"},"transform":[{"filter":"datum.s=='g'"}],"mark":{"type":"line","color":"#72d072","strokeWidth":1.7,"clip":true},"encoding":{"x":{"field":"t","type":"quantitative","scale":{"domain":[1970.93,2026.84]},"axis":null},"y":{"field":"v","type":"quantitative","scale":{"type":"log","domain":[0.2208,91.3]},"axis":null}}},
{"data":{"name":"bars"},"mark":{"type":"rule","strokeWidth":1.4,"clip":true},"encoding":{"x":{"field":"t","type":"quantitative","scale":{"domain":[1970.93,2026.84]},"axis":null},"y":{"field":"l","type":"quantitative","scale":{"type":"log","domain":[0.2208,91.3]},"axis":null},"y2":{"field":"h"},"color":{"field":"d","type":"nominal","legend":null,"scale":{"domain":["u","r"],"range":["#2f8f00","#ff0000"]}}}},
{"data":{"name":"bars"},"mark":{"type":"line","color":"#ff2020","strokeWidth":1.5,"clip":true},"encoding":{"x":{"field":"t","type":"quantitative","scale":{"domain":[1970.93,2026.84]},"axis":null},"y":{"field":"c","type":"quantitative","scale":{"type":"log","domain":[0.2208,91.3]},"axis":null}}},
{"mark":{"type":"rect","stroke":"#7b8f9c","strokeWidth":1.5,"fill":{"gradient":"linear","x1":0,"y1":0,"x2":0,"y2":1,"stops":[{"offset":0,"color":"#bcdcec"},{"offset":1,"color":"#96b4c2"}]}},"encoding":{"x":{"datum":1970.87,"type":"quantitative","scale":{"domain":[1970.93,2026.84]},"axis":null},"x2":{"datum":2028.4},"y":{"datum":91.3,"type":"quantitative","scale":{"type":"log","domain":[0.2208,91.3]},"axis":null},"y2":{"datum":104}}},
{"data":{"name":"icon"},"mark":{"type":"rule","color":"#58aee8","strokeWidth":3},"encoding":{"x":{"field":"t","type":"quantitative","scale":{"domain":[1970.93,2026.84]},"axis":null},"y":{"field":"a","type":"quantitative","scale":{"type":"log","domain":[0.2208,91.3]},"axis":null},"y2":{"field":"b"}}},
{"mark":{"type":"text","text":"PFIZER INC. Monthly 25.99 -2.44% 11 Mar 2025, 8:59:59 pm","align":"left","baseline":"middle","fontWeight":"bold","font":"Liberation Sans","fontSize":10.9,"color":"#000000"},"encoding":{"x":{"datum":1971.59,"type":"quantitative","scale":{"domain":[1970.93,2026.84]},"axis":null},"y":{"datum":96.2,"type":"quantitative","scale":{"type":"log","domain":[0.2208,91.3]},"axis":null}}},
{"mark":{"type":"text","text":"www.ProRealTime.com","align":"right","baseline":"middle","fontWeight":"bold","font":"Liberation Sans","fontSize":11.6,"color":"#000000"},"encoding":{"x":{"datum":2028.23,"type":"quantitative","scale":{"domain":[1970.93,2026.84]},"axis":null},"y":{"datum":96.2,"type":"quantitative","scale":{"type":"log","domain":[0.2208,91.3]},"axis":null}}},
{"mark":{"type":"text","text":"ProRealTime.com  Historical data adjusted after dividends","align":"left","baseline":"middle","font":"Liberation Sans","fontSize":10.7,"color":"#111111"},"encoding":{"x":{"datum":1971,"type":"quantitative","scale":{"domain":[1970.93,2026.84]},"axis":null},"y":{"datum":0.2277,"type":"quantitative","scale":{"type":"log","domain":[0.2208,91.3]},"axis":null}}},
{"mark":{"type":"point","shape":"square","filled":false,"size":110,"stroke":"#9aa8b0","strokeWidth":1.2},"encoding":{"x":{"datum":2025.17,"type":"quantitative","scale":{"domain":[1970.93,2026.84]},"axis":null},"y":{"datum":0.2326,"type":"quantitative","scale":{"type":"log","domain":[0.2208,91.3]},"axis":null}}},
{"mark":{"type":"text","text":"i","align":"center","baseline":"middle","fontWeight":"bold","font":"Liberation Sans","fontSize":10,"color":"#7b8f9c"},"encoding":{"x":{"datum":2025.17,"type":"quantitative","scale":{"domain":[1970.93,2026.84]},"axis":null},"y":{"datum":0.2326,"type":"quantitative","scale":{"type":"log","domain":[0.2208,91.3]},"axis":null}}},
{"data":{"name":"tags"},"mark":{"type":"rule","strokeWidth":1.5},"encoding":{"x":{"datum":2026.84,"type":"quantitative","scale":{"domain":[1970.93,2026.84]},"axis":null},"x2":{"datum":2026.98},"y":{"field":"v","type":"quantitative","scale":{"type":"log","domain":[0.2208,91.3]},"axis":null},"color":{"field":"s","type":"nominal","legend":null,"scale":{"domain":["o","g","r","c"],"range":["#f7a55a","#72d072","#ff0000","#20bcc8"]}}}},
{"data":{"name":"tags"},"mark":{"type":"rect","width":41,"height":15,"fill":"#f5f6f7","stroke":"#8a9aa4","strokeWidth":1.2},"encoding":{"x":{"datum":2027.6,"type":"quantitative","scale":{"domain":[1970.93,2026.84]},"axis":null},"y":{"field":"v","type":"quantitative","scale":{"type":"log","domain":[0.2208,91.3]},"axis":null}}},
{"data":{"name":"tags"},"mark":{"type":"text","align":"center","baseline":"middle","fontWeight":"bold","font":"Liberation Sans","fontSize":12.5},"encoding":{"x":{"datum":2027.6,"type":"quantitative","scale":{"domain":[1970.93,2026.84]},"axis":null},"y":{"field":"v","type":"quantitative","scale":{"type":"log","domain":[0.2208,91.3]},"axis":null},"text":{"field":"txt"},"color":{"field":"s","type":"nominal","legend":null,"scale":{"domain":["o","g","r","c"],"range":["#f7a55a","#72d072","#ff0000","#20bcc8"]}}}},
{"data":{"name":"last"},"mark":{"type":"rect","width":34,"height":15,"fill":"#ffcc00","stroke":"#6b7a84","strokeWidth":1.2},"encoding":{"x":{"datum":2027.5,"type":"quantitative","scale":{"domain":[1970.93,2026.84]},"axis":null},"y":{"field":"v","type":"quantitative","scale":{"type":"log","domain":[0.2208,91.3]},"axis":null}}},
{"data":{"name":"last"},"mark":{"type":"text","align":"center","baseline":"middle","fontWeight":"bold","font":"Liberation Sans","fontSize":12.5,"color":"#000000"},"encoding":{"x":{"datum":2027.5,"type":"quantitative","scale":{"domain":[1970.93,2026.84]},"axis":null},"y":{"field":"v","type":"quantitative","scale":{"type":"log","domain":[0.2208,91.3]},"axis":null},"text":{"field":"txt"}}}
],"resolve":{"scale":{"color":"independent"},"axis":{"x":"independent","y":"independent"}}}
